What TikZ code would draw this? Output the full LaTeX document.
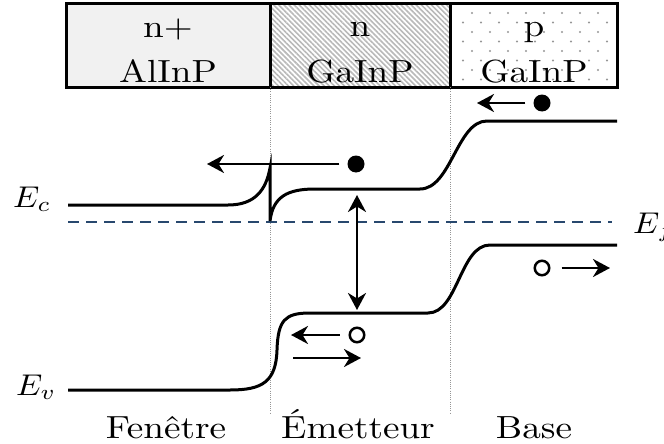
\documentclass[tikz,border=0pt]{standalone}
\usepackage{fontspec}
\usetikzlibrary{arrows.meta,patterns.meta}
\definecolor{efblue}{RGB}{40,72,110}
\definecolor{boxgray}{RGB}{241,241,241}
\definecolor{dotgray}{RGB}{150,150,150}
\newcommand{\wideT}[1]{\scalebox{3.72}[3.2]{\fontsize{10}{12}\selectfont #1}}
\newcommand{\wideM}[1]{\scalebox{3.3}[3.0]{\fontsize{10}{12}\selectfont #1}}
\begin{document}
\begin{tikzpicture}[x=1pt,y=-1pt,
  band/.style={line width=3pt},
  tipA/.tip={Stealth[length=17pt,width=18pt,inset=5.5pt]},
  arr/.style={line width=2.8pt,-tipA},
  txt/.style={inner sep=0pt,anchor=base},
  edot/.style={circle,fill=black,minimum size=17pt,inner sep=0pt},
  hole/.style={circle,draw=black,line width=2.5pt,minimum size=14.5pt,inner sep=0pt},
  sep/.style={dotgray,line width=0.8pt,dash pattern=on 1pt off 1.2pt},
]
\useasboundingbox (0,0) rectangle (664,444);
\fill[white] (0,0) rectangle (664,444);
\clip (0,0) rectangle (664,444);

% layer boxes
\fill[boxgray] (66,4) rectangle (270,87);
\fill[pattern={Lines[angle=-45,distance=3.6pt,line width=1.6pt]},pattern color=gray!55] (270,4) rectangle (450.5,87);
\foreach \k in {0,...,7}{
  \pgfmathsetmacro{\yy}{13+9.5*\k}
  \ifodd\k
    \foreach \xx in {463,481,...,607}{\fill[dotgray] (\xx,\yy) circle (1.2pt);}
  \else
    \foreach \xx in {472,490,...,598}{\fill[dotgray] (\xx,\yy) circle (1.2pt);}
  \fi
}
\draw[line width=3pt] (66,4) rectangle (617,87);
\draw[line width=3pt] (270,4) -- (270,87);
\draw[line width=3pt] (450.5,4) -- (450.5,87);

\node[txt] (l1a) at (168,38) {\wideT{n+}};
\node[txt] (l1b) at (168,82) {\wideT{AlInP}};
\node[txt] (l2a) at (360,37) {\wideT{n}};
\node[txt] (l2b) at (360,82) {\wideT{GaInP}};
\node[txt] (l3a) at (534,37) {\wideT{p}};
\node[txt] (l3b) at (534,82) {\wideT{GaInP}};

% region separators
\draw[sep] (270,87) -- (270,413);
\draw[sep] (450.5,87) -- (450.5,413);

% Fermi level
\draw[efblue,line width=2.6pt,dash pattern=on 11pt off 7pt] (68,222) -- (612,222);

% conduction band
\draw[band] (68,205) -- (228,205) .. controls (255,205) and (266,190) .. (270,168)
  -- (270,221) .. controls (273,197) and (287,189) .. (315,189)
  -- (420,189) .. controls (451,189) and (457,121) .. (487,121) -- (617,121);

% valence band
\draw[band] (68,390) -- (230,390) .. controls (262,390) and (276,382) .. (277,350)
  .. controls (278,320) and (285,313) .. (310,313)
  -- (428,313) .. controls (458,313) and (460,245) .. (490,245) -- (617,245);

% labels
\node[txt,anchor=base west] (ec) at (13,207) {\wideM{$E_c$}};
\node[txt,anchor=base west] (ev) at (16,395) {\wideM{$E_v$}};
\node[txt,anchor=base west] (ef) at (633,233) {\wideM{$E_f$}};
\node[txt] (fen) at (166,438) {\wideT{Fenêtre}};
\node[txt] (emi) at (358,438) {\wideT{Émetteur}};
\node[txt] (bas) at (534,438) {\wideT{Base}};

% carriers and arrows
\node[edot] (e1) at (356,164) {};
\coordinate (t1) at (207,164);
\draw[arr] ([xshift=-8pt]e1.west) -- (t1);

\node[edot] (e2) at (542,103) {};
\coordinate (t2) at (477,103);
\draw[arr] ([xshift=-8pt]e2.west) -- (t2);

\coordinate (vt) at (357,195);
\coordinate (vb) at (357,310);
\draw[line width=2.8pt,tipA-tipA] (vt) -- (vb);

\node[hole] (h1) at (357,335) {};
\coordinate (t3) at (291,335);
\draw[arr] ([xshift=-9pt]h1.west) -- (t3);
\coordinate (s4) at (293,358);
\coordinate (t4) at (361,358);
\draw[arr] (s4) -- (t4);

\node[hole] (h2) at (542,268) {};
\coordinate (t5) at (610,268);
\draw[arr] ([xshift=11pt]h2.east) -- (t5);
\end{tikzpicture}
\end{document}
